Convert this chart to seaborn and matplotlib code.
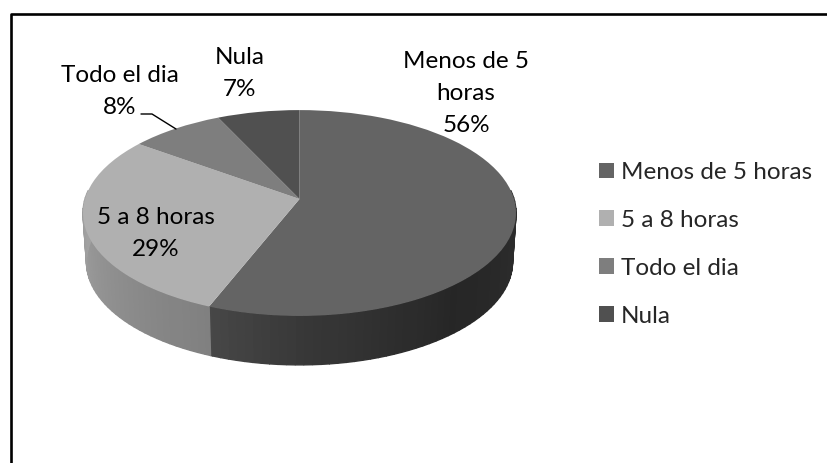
import numpy as np
import matplotlib
matplotlib.use('Agg')
import matplotlib.pyplot as plt
import matplotlib.transforms as mtrans
from matplotlib.patches import Polygon
import seaborn as sns

categories = ['Menos de 5 horas', '5 a 8 horas', 'Todo el dia', 'Nula']
shares = [56, 29, 8, 7]
top_colors = ['#646464', '#b0b0b0', '#7e7e7e', '#505050']

# wall shading, degrees clockwise from the top of the pie
wall_angles = [90, 140, 180, 201.6, 201.7, 270]
wall_greys = [0.18, 0.15, 0.22, 0.28, 0.50, 0.63]

CX, CY = 299.5, 199
TILT = 0.136
SCALE_X, SCALE_Y = 214.5, 101


class Tilt(mtrans.Transform):
    """Unit circle to the perspective view of the pie, in image pixels."""
    input_dims = 2
    output_dims = 2

    def __init__(self, dy=0, shrink=1.0):
        super().__init__()
        self.dy = dy
        self.shrink = shrink

    def transform_non_affine(self, xy):
        xy = np.asarray(xy, dtype=float)
        w = 1 + TILT * xy[:, 1]
        px = CX + self.shrink * SCALE_X * xy[:, 0] / w
        py = CY + self.dy - SCALE_Y * xy[:, 1] / w
        return np.column_stack([px, py])


def rim(theta):
    return np.column_stack([np.sin(theta), np.cos(theta)])


sns.set_theme(style='white')
plt.rcParams['font.family'] = ['Lato', 'DejaVu Sans']

fig = plt.figure(figsize=(8.28, 4.63), dpi=100)
ax = fig.add_axes([0, 0, 1, 1])

wedges, _ = ax.pie(shares, colors=top_colors, startangle=90, counterclock=False,
                   wedgeprops={'linewidth': 0})
ax.set_aspect('auto')
ax.set_xlim(0, 828)
ax.set_ylim(463, 0)
ax.axis('off')

top = Tilt()
bottom = Tilt(dy=49, shrink=0.984)
for w in wedges:
    w.set_transform(top + ax.transData)
    w.set_zorder(3)

# side wall, thin facets between the upper and lower rim
edges = np.arange(85, 276, 2.0)
edges = np.sort(np.append(edges, shares[0] * 3.6))
for a0, a1 in zip(edges[:-1], edges[1:]):
    th = np.radians([a0, a1])
    upper = top.transform_non_affine(rim(th))
    lower = bottom.transform_non_affine(rim(th))[::-1]
    g = np.interp((a0 + a1) / 2, wall_angles, wall_greys)
    c = (g, g, g)
    ax.add_patch(Polygon(np.vstack([upper, lower]), closed=True, facecolor=c,
                         edgecolor=c, linewidth=1.0, zorder=2))

# frame runs off the right and bottom of the picture
ax.plot([11, 11, 840], [480, 14, 14], color='black', lw=1.9, clip_on=False, zorder=5)

FS = 17.5
labels = [
    (466, [61, 93, 125], ['Menos de 5', 'horas', f'{shares[0]}%']),
    (156, [218, 250], [categories[1], f'{shares[1]}%']),
    (120, [75, 108], [categories[2], f'{shares[2]}%']),
    (240, [57, 90], [categories[3], f'{shares[3]}%']),
]
for x, ys, lines in labels:
    for y, s in zip(ys, lines):
        ax.text(x, y, s, ha='center', va='center', fontsize=FS, color='black', zorder=6)

ax.plot([141, 152, 176], [114, 114, 129], color='black', lw=1.0, zorder=6)

ax.legend(wedges, categories, loc='upper left', bbox_to_anchor=(599 / 828, 1 - 162 / 463),
          frameon=False, fontsize=FS, handlelength=0.62, handleheight=0.62,
          handletextpad=0.29, labelspacing=1.105, borderpad=0, borderaxespad=0)

plt.savefig('out.png', dpi=100)
